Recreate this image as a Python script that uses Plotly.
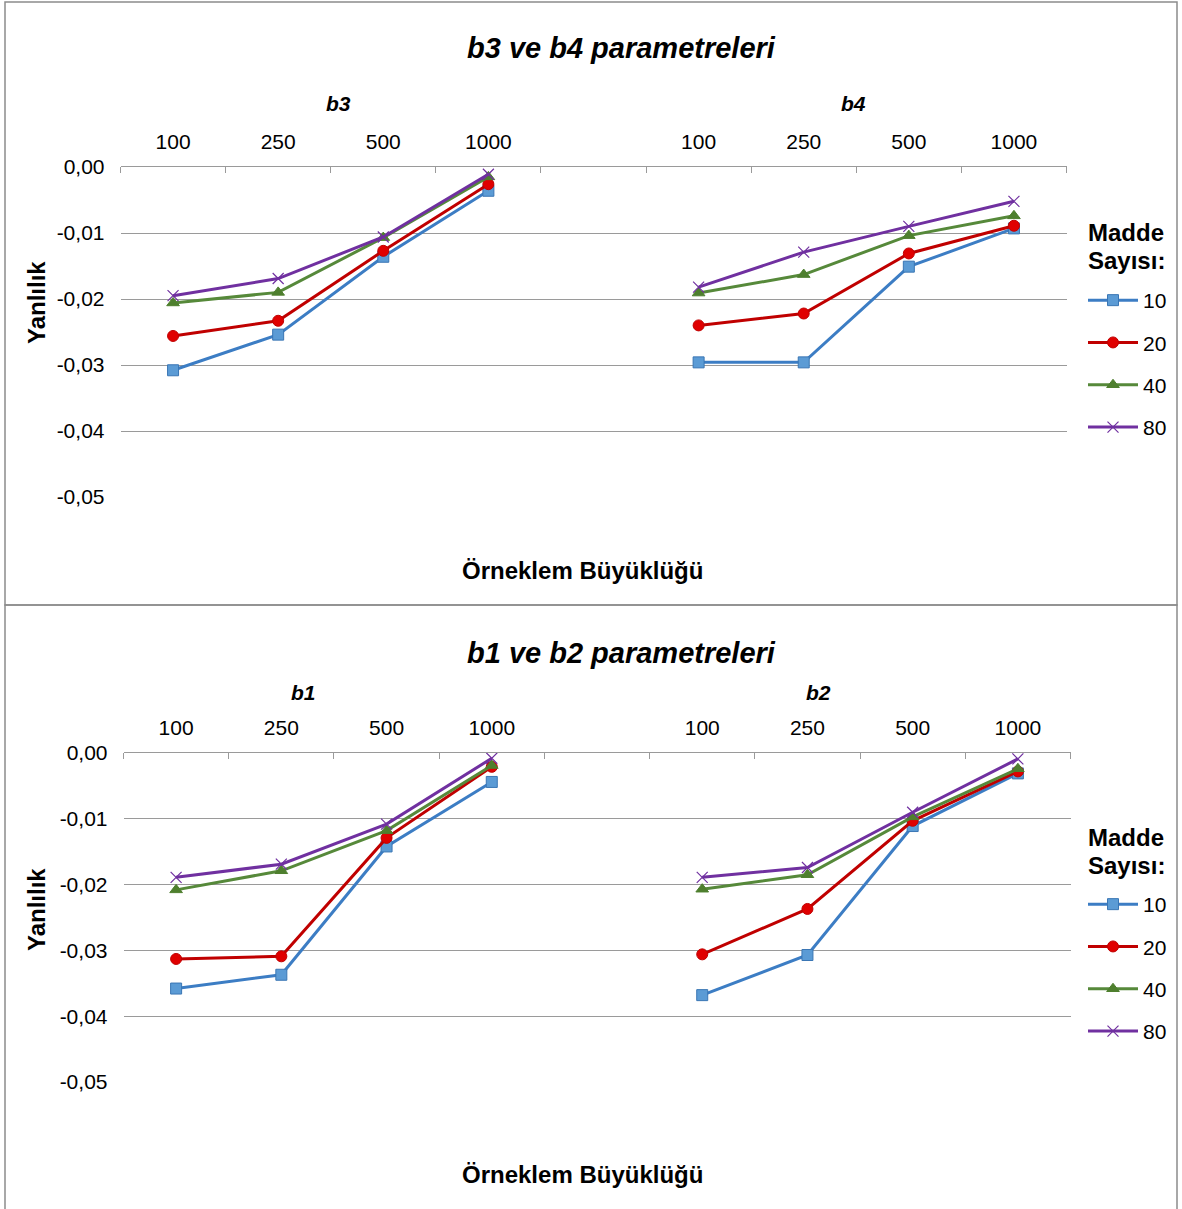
import plotly.graph_objects as go

W, H = 1182, 1209

# ---------------- data ----------------
sizes = ["100", "250", "500", "1000"]
series_names = ["10", "20", "40", "80"]

# top panel: b3 (left group) and b4 (right group)
b3_10 = [-0.0308, -0.0254, -0.0136, -0.0036]
b3_20 = [-0.0256, -0.0233, -0.0127, -0.0026]
b3_40 = [-0.0206, -0.0190, -0.0107, -0.0015]
b3_80 = [-0.0195, -0.0169, -0.0106, -0.0011]

b4_10 = [-0.0296, -0.0296, -0.0151, -0.0093]
b4_20 = [-0.0240, -0.0222, -0.0131, -0.0089]
b4_40 = [-0.0191, -0.0163, -0.0104, -0.0074]
b4_80 = [-0.0182, -0.0129, -0.0090, -0.0052]

# bottom panel: b1 (left group) and b2 (right group)
b1_10 = [-0.0358, -0.0337, -0.0142, -0.0044]
b1_20 = [-0.0313, -0.0309, -0.0129, -0.0021]
b1_40 = [-0.0208, -0.0179, -0.0118, -0.0019]
b1_80 = [-0.0189, -0.0169, -0.0108, -0.0008]

b2_10 = [-0.0368, -0.0307, -0.0111, -0.0031]
b2_20 = [-0.0306, -0.0237, -0.0103, -0.0028]
b2_40 = [-0.0207, -0.0185, -0.0097, -0.0024]
b2_80 = [-0.0189, -0.0174, -0.0090, -0.0009]

y_ticks = [0.0, -0.01, -0.02, -0.03, -0.04, -0.05]
y_ticktext = [("%.2f" % v).replace(".", ",").replace("-0,00", "0,00") for v in y_ticks]

# ---------------- helpers ----------------
cats = sizes + [""] + sizes          # blank category separates the two groups
xpos = list(range(len(cats)))
tickvals = [i for i, c in enumerate(cats) if c]
ticktext = [c for c in cats if c]
bounds = [i - 0.5 for i in range(len(cats) + 1)]

def px(x):
    return x / W

def py(y):
    return 1 - y / H

FONT = "Arial, 'Liberation Sans', sans-serif"
GRID = "#9a9a9a"

styles = {
    "10": dict(line="#3C7DC4", mfill="#5B9BD5", medge="#3A76B4", symbol="square", msize=11, mline=1),
    "20": dict(line="#C00000", mfill="#E00000", medge="#C00000", symbol="circle", msize=11, mline=1),
    "40": dict(line="#56893A", mfill="#4E7F2E", medge="#4E7F2E", symbol="triangle-up", msize=11, mline=1),
    "80": dict(line="#7030A0", mfill="#7030A0", medge="#7030A0", symbol="x-thin-open", msize=11, mline=1.2),
}

fig = go.Figure()

panels = [
    ("x", "y", "legend", "t",
     {"10": (b3_10, b4_10), "20": (b3_20, b4_20), "40": (b3_40, b4_40), "80": (b3_80, b4_80)}),
    ("x2", "y2", "legend2", "b",
     {"10": (b1_10, b2_10), "20": (b1_20, b2_20), "40": (b1_40, b2_40), "80": (b1_80, b2_80)}),
]

for xa, ya, leg, pref, data in panels:
    for name in series_names:
        left, right = data[name]
        s = styles[name]
        fig.add_trace(go.Scatter(
            x=xpos, y=list(left) + [None] + list(right),
            mode="lines+markers", name=name,
            xaxis=xa, yaxis=ya, legend=leg, legendgroup=pref + name,
            connectgaps=False,
            line=dict(color=s["line"], width=3),
            marker=dict(symbol=s["symbol"], size=s["msize"], color=s["mfill"],
                        line=dict(color=s["medge"], width=s["mline"])),
        ))

def xaxis_cfg(left_px, right_px, anchor):
    return dict(
        domain=[px(left_px), px(right_px)], anchor=anchor, side="top",
        range=[-0.5, len(cats) - 0.5], tickmode="array",
        tickvals=tickvals, ticktext=ticktext, ticks="",
        showline=True, linecolor=GRID, linewidth=1, showgrid=False, zeroline=False,
        tickfont=dict(family=FONT, size=21, color="black"),
        ticklabelstandoff=9, automargin=False,
        minor=dict(tickmode="array", tickvals=bounds, ticks="inside", ticklen=6,
                   tickcolor=GRID, tickwidth=1, showgrid=False),
        fixedrange=True,
    )

def yaxis_cfg(top_px, bottom_px, anchor):
    return dict(
        domain=[py(bottom_px), py(top_px)], anchor=anchor,
        range=[-0.05, 0.0], tickmode="array", tickvals=y_ticks, ticktext=y_ticktext,
        ticks="", showline=False, automargin=False,
        showgrid=True, gridcolor=GRID, gridwidth=1, zeroline=False,
        tickfont=dict(family=FONT, size=21, color="black"),
        ticklabelstandoff=15,
        fixedrange=True,
    )

legend_common = dict(
    xanchor="left", yanchor="top", bgcolor="rgba(0,0,0,0)",
    font=dict(family=FONT, size=21, color="black"),
    tracegroupgap=12, itemwidth=50, traceorder="grouped",
)

annotations = []

def ann(text, x, y, size, angle=0, xanchor="center"):
    annotations.append(dict(
        text=text, x=px(x), y=py(y), xref="paper", yref="paper",
        showarrow=False, xanchor=xanchor, yanchor="middle", textangle=angle,
        font=dict(family=FONT, size=size, color="black"),
    ))

# top panel texts
ann("<b><i>b3 ve b4 parametreleri</i></b>", 622, 48, 29)
ann("<b><i>b3</i></b>", 338, 103, 21)
ann("<b><i>b4</i></b>", 853, 103, 21)
ann("<b>Örneklem Büyüklüğü</b>", 582, 570, 24)
ann("<b>Yanlılık</b>", 36, 303, 24, -90)
ann("<b>Madde</b>", 1086, 233, 24, xanchor="left")
ann("<b>Sayısı:</b>", 1086, 260, 24, xanchor="left")
# bottom panel texts
ann("<b><i>b1 ve b2 parametreleri</i></b>", 622, 653, 29)
ann("<b><i>b1</i></b>", 303, 692, 21)
ann("<b><i>b2</i></b>", 818, 692, 21)
ann("<b>Örneklem Büyüklüğü</b>", 582, 1174, 24)
ann("<b>Yanlılık</b>", 36, 910, 24, -90)
ann("<b>Madde</b>", 1086, 837, 24, xanchor="left")
ann("<b>Sayısı:</b>", 1086, 865, 24, xanchor="left")

shapes = [
    dict(type="rect", xref="paper", yref="paper", x0=px(5), x1=px(1177), y0=py(605), y1=py(2),
         line=dict(color="#8c8c8c", width=1.5), layer="below"),
    dict(type="rect", xref="paper", yref="paper", x0=px(5), x1=px(1177), y0=py(1215), y1=py(605),
         line=dict(color="#8c8c8c", width=1.5), layer="below"),
]

fig.update_layout(
    width=W, height=H, margin=dict(l=0, r=0, t=0, b=0, pad=0, autoexpand=False),
    paper_bgcolor="white", plot_bgcolor="white",
    xaxis=xaxis_cfg(120.5, 1066.5, "y"),
    yaxis=yaxis_cfg(167, 497, "x"),
    xaxis2=xaxis_cfg(123.5, 1070.5, "y2"),
    yaxis2=yaxis_cfg(753, 1082, "x2"),
    legend=dict(x=px(1083), y=py(280), **legend_common),
    legend2=dict(x=px(1083), y=py(884), **legend_common),
    annotations=annotations, shapes=shapes,
    showlegend=True,
)

post = (
    "document.documentElement.style.margin='0';"
    "document.body.style.margin='0';document.body.style.overflow='hidden';"
    "var gd=document.querySelector('.plotly-graph-div');"
    "gd.style.position='fixed';gd.style.top='0px';gd.style.left='0px';"
)

fig.write_html("out.html", config={"displayModeBar": False}, post_script=post)
